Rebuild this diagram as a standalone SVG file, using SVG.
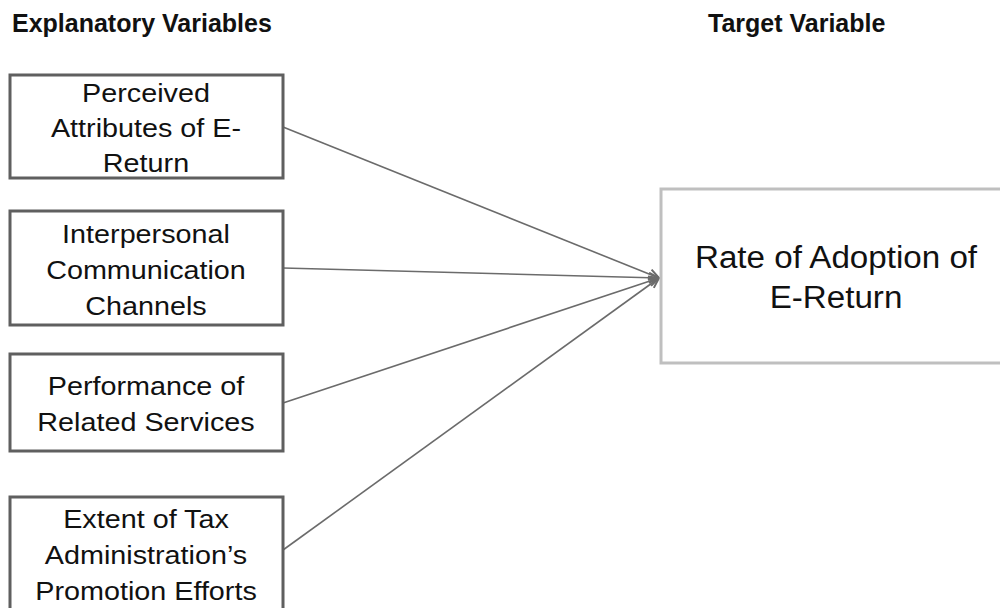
<svg xmlns="http://www.w3.org/2000/svg" width="1000" height="608" viewBox="0 0 1000 608">
  <style>
    .hdr { font-family: "Liberation Sans", Arial, sans-serif; font-weight: bold; font-size: 25px; fill: #111; }
    .box { fill: #fff; stroke: #5f5f5f; stroke-width: 3; }
    .tbox { fill: #fff; stroke: #bfbfbf; stroke-width: 3; }
    .lbl { font-family: "Liberation Sans", Arial, sans-serif; font-size: 25px; fill: #111; text-anchor: middle; }
    .tlbl { font-family: "Liberation Sans", Arial, sans-serif; font-size: 31px; fill: #111; text-anchor: middle; }
    .conn { stroke: #6b6b6b; stroke-width: 1.6; fill: none; marker-end: url(#open); }
  </style>
  <defs>
    <marker id="open" viewBox="0 0 12 12" refX="11" refY="6" markerWidth="12" markerHeight="12" markerUnits="userSpaceOnUse" orient="auto">
      <path d="M1,1 L11,6 L1,11" fill="none" stroke="#6b6b6b" stroke-width="2"/>
    </marker>
  </defs>
  <rect width="1000" height="608" fill="#fff"/>

  <text class="hdr" x="12" y="32">Explanatory Variables</text>
  <text class="hdr" x="708" y="32">Target Variable</text>

  <g id="connectors">
    <line class="conn" x1="283" y1="127" x2="659" y2="278"/>
    <line class="conn" x1="283" y1="268" x2="659" y2="278"/>
    <line class="conn" x1="283" y1="403" x2="659" y2="278"/>
    <line class="conn" x1="283" y1="550" x2="659" y2="278"/>
  </g>

  <g id="perceived">
    <rect class="box" x="10" y="75" width="273" height="103"/>
    <g transform="translate(146,0) scale(1.15,1)">
      <text class="lbl" x="0" y="102">Perceived</text>
      <text class="lbl" x="0" y="137">Attributes of E-</text>
      <text class="lbl" x="0" y="172">Return</text>
    </g>
  </g>

  <g id="interpersonal">
    <rect class="box" x="10" y="211" width="273" height="114"/>
    <g transform="translate(146,0) scale(1.15,1)">
      <text class="lbl" x="0" y="243">Interpersonal</text>
      <text class="lbl" x="0" y="279">Communication</text>
      <text class="lbl" x="0" y="315">Channels</text>
    </g>
  </g>

  <g id="performance">
    <rect class="box" x="10" y="354" width="273" height="97"/>
    <g transform="translate(146,0) scale(1.15,1)">
      <text class="lbl" x="0" y="395">Performance of</text>
      <text class="lbl" x="0" y="431">Related Services</text>
    </g>
  </g>

  <g id="extent">
    <rect class="box" x="10" y="497" width="273" height="130"/>
    <g transform="translate(146,0) scale(1.15,1)">
      <text class="lbl" x="0" y="528">Extent of Tax</text>
      <text class="lbl" x="0" y="564">Administration’s</text>
      <text class="lbl" x="0" y="600">Promotion Efforts</text>
    </g>
  </g>

  <g id="target">
    <rect class="tbox" x="661" y="189" width="360" height="174"/>
    <g transform="translate(836,0) scale(1.07,1)">
      <text class="tlbl" x="0" y="268">Rate of Adoption of</text>
      <text class="tlbl" x="0" y="308">E-Return</text>
    </g>
  </g>
</svg>
